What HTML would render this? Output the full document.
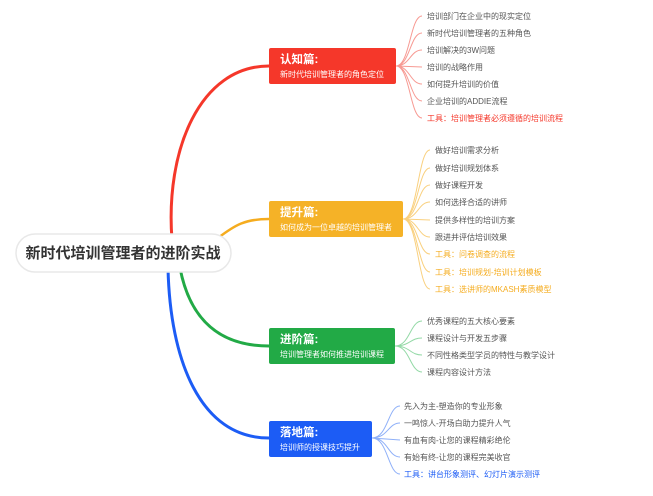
<!DOCTYPE html>
<html><head><meta charset="utf-8"><style>
html,body{margin:0;padding:0;background:#fff;}
svg{display:block;font-family:"Liberation Sans","Noto Sans CJK SC",sans-serif;}
.it{font-size:8px;fill:#555;}
</style></head><body>
<svg width="653" height="496" viewBox="0 0 653 496">
<path d="M172,240 C165,150 200,66 269,66" stroke="#f5372a" stroke-width="3" fill="none"/>
<path d="M218,238 C235,225 245,219 269,219" stroke="#f5ac1f" stroke-width="2.5" fill="none"/>
<path d="M180,268 C190,320 220,346 269,346" stroke="#22aa46" stroke-width="3" fill="none"/>
<path d="M168,268 C170,360 200,438 269,438" stroke="#1c5cf5" stroke-width="3" fill="none"/>
<rect x="16" y="234" width="215" height="38" rx="19" fill="#fff" stroke="#e8e8e8" stroke-width="1.5"/>
<text x="123" y="258" text-anchor="middle" font-size="15" font-weight="bold" fill="#333">新时代培训管理者的进阶实战</text>
<g stroke="#f79a93" stroke-width="1" fill="none">
<path d="M396,66 C410,66 410,16 422,16 M396,66 C410,66 410,33 422,33 M396,66 C410,66 410,50 422,50 M396,66 L422,67 M396,66 C410,66 410,84 422,84 M396,66 C410,66 410,101 422,101 M396,66 C410,66 410,118 422,118"/>
</g>
<rect x="269" y="48" width="127" height="36" rx="2" fill="#f5372a"/>
<text x="280" y="63" font-size="11.5" font-weight="bold" fill="#fff">认知篇:</text>
<text x="280" y="77" font-size="8" fill="#fff">新时代培训管理者的角色定位</text>
<g class="it">
<text x="427" y="19">培训部门在企业中的现实定位</text>
<text x="427" y="36">新时代培训管理者的五种角色</text>
<text x="427" y="53">培训解决的3W问题</text>
<text x="427" y="70">培训的战略作用</text>
<text x="427" y="87">如何提升培训的价值</text>
<text x="427" y="104">企业培训的ADDIE流程</text>
<text x="427" y="121" style="fill:#f5372a">工具：培训管理者必须遵循的培训流程</text>
</g>
<g stroke="#f9d07e" stroke-width="1" fill="none">
<path d="M403,219 C418,219 418,150 430,150 M403,219 C418,219 418,168 430,168 M403,219 C418,219 418,185 430,185 M403,219 C418,219 418,202 430,202 M403,219 L430,220 M403,219 C418,219 418,237 430,237 M403,219 C418,219 418,254 430,254 M403,219 C418,219 418,272 430,272 M403,219 C418,219 418,289 430,289"/>
</g>
<rect x="269" y="201" width="134" height="36" rx="2" fill="#f5b227"/>
<text x="280" y="216" font-size="11.5" font-weight="bold" fill="#fff">提升篇:</text>
<text x="280" y="230" font-size="8" fill="#fff">如何成为一位卓越的培训管理者</text>
<g class="it">
<text x="435" y="153">做好培训需求分析</text>
<text x="435" y="171">做好培训规划体系</text>
<text x="435" y="188">做好课程开发</text>
<text x="435" y="205">如何选择合适的讲师</text>
<text x="435" y="223">提供多样性的培训方案</text>
<text x="435" y="240">跟进并评估培训效果</text>
<text x="435" y="257" style="fill:#f5ac1f">工具：问卷调查的流程</text>
<text x="435" y="275" style="fill:#f5ac1f">工具：培训规划-培训计划模板</text>
<text x="435" y="292" style="fill:#f5ac1f">工具：选讲师的MKASH素质模型</text>
</g>
<g stroke="#93d9a6" stroke-width="1" fill="none">
<path d="M395,346 C410,346 410,321 422,321 M395,346 C410,346 410,338 422,338 M395,346 C410,346 410,355 422,355 M395,346 C410,346 410,372 422,372"/>
</g>
<rect x="269" y="328" width="126" height="36" rx="2" fill="#22aa46"/>
<text x="280" y="343" font-size="11.5" font-weight="bold" fill="#fff">进阶篇:</text>
<text x="280" y="357" font-size="8" fill="#fff">培训管理者如何推进培训课程</text>
<g class="it">
<text x="427" y="324">优秀课程的五大核心要素</text>
<text x="427" y="341">课程设计与开发五步骤</text>
<text x="427" y="358">不同性格类型学员的特性与教学设计</text>
<text x="427" y="375">课程内容设计方法</text>
</g>
<g stroke="#8fb0f8" stroke-width="1" fill="none">
<path d="M372,438 C388,438 388,406 400,406 M372,438 C388,438 388,423 400,423 M372,438 L400,440 M372,438 C388,438 388,457 400,457 M372,438 C388,438 388,474 400,474"/>
</g>
<rect x="269" y="421" width="103" height="36" rx="2" fill="#1c5cf5"/>
<text x="280" y="436" font-size="11.5" font-weight="bold" fill="#fff">落地篇:</text>
<text x="280" y="450" font-size="8" fill="#fff">培训师的授课技巧提升</text>
<g class="it">
<text x="404" y="409">先入为主-塑造你的专业形象</text>
<text x="404" y="426">一鸣惊人-开场白助力提升人气</text>
<text x="404" y="443">有血有肉-让您的课程精彩绝伦</text>
<text x="404" y="460">有始有终-让您的课程完美收官</text>
<text x="404" y="477" style="fill:#1c5cf5">工具：讲台形象测评、幻灯片演示测评</text>
</g>
</svg>
</body></html>
